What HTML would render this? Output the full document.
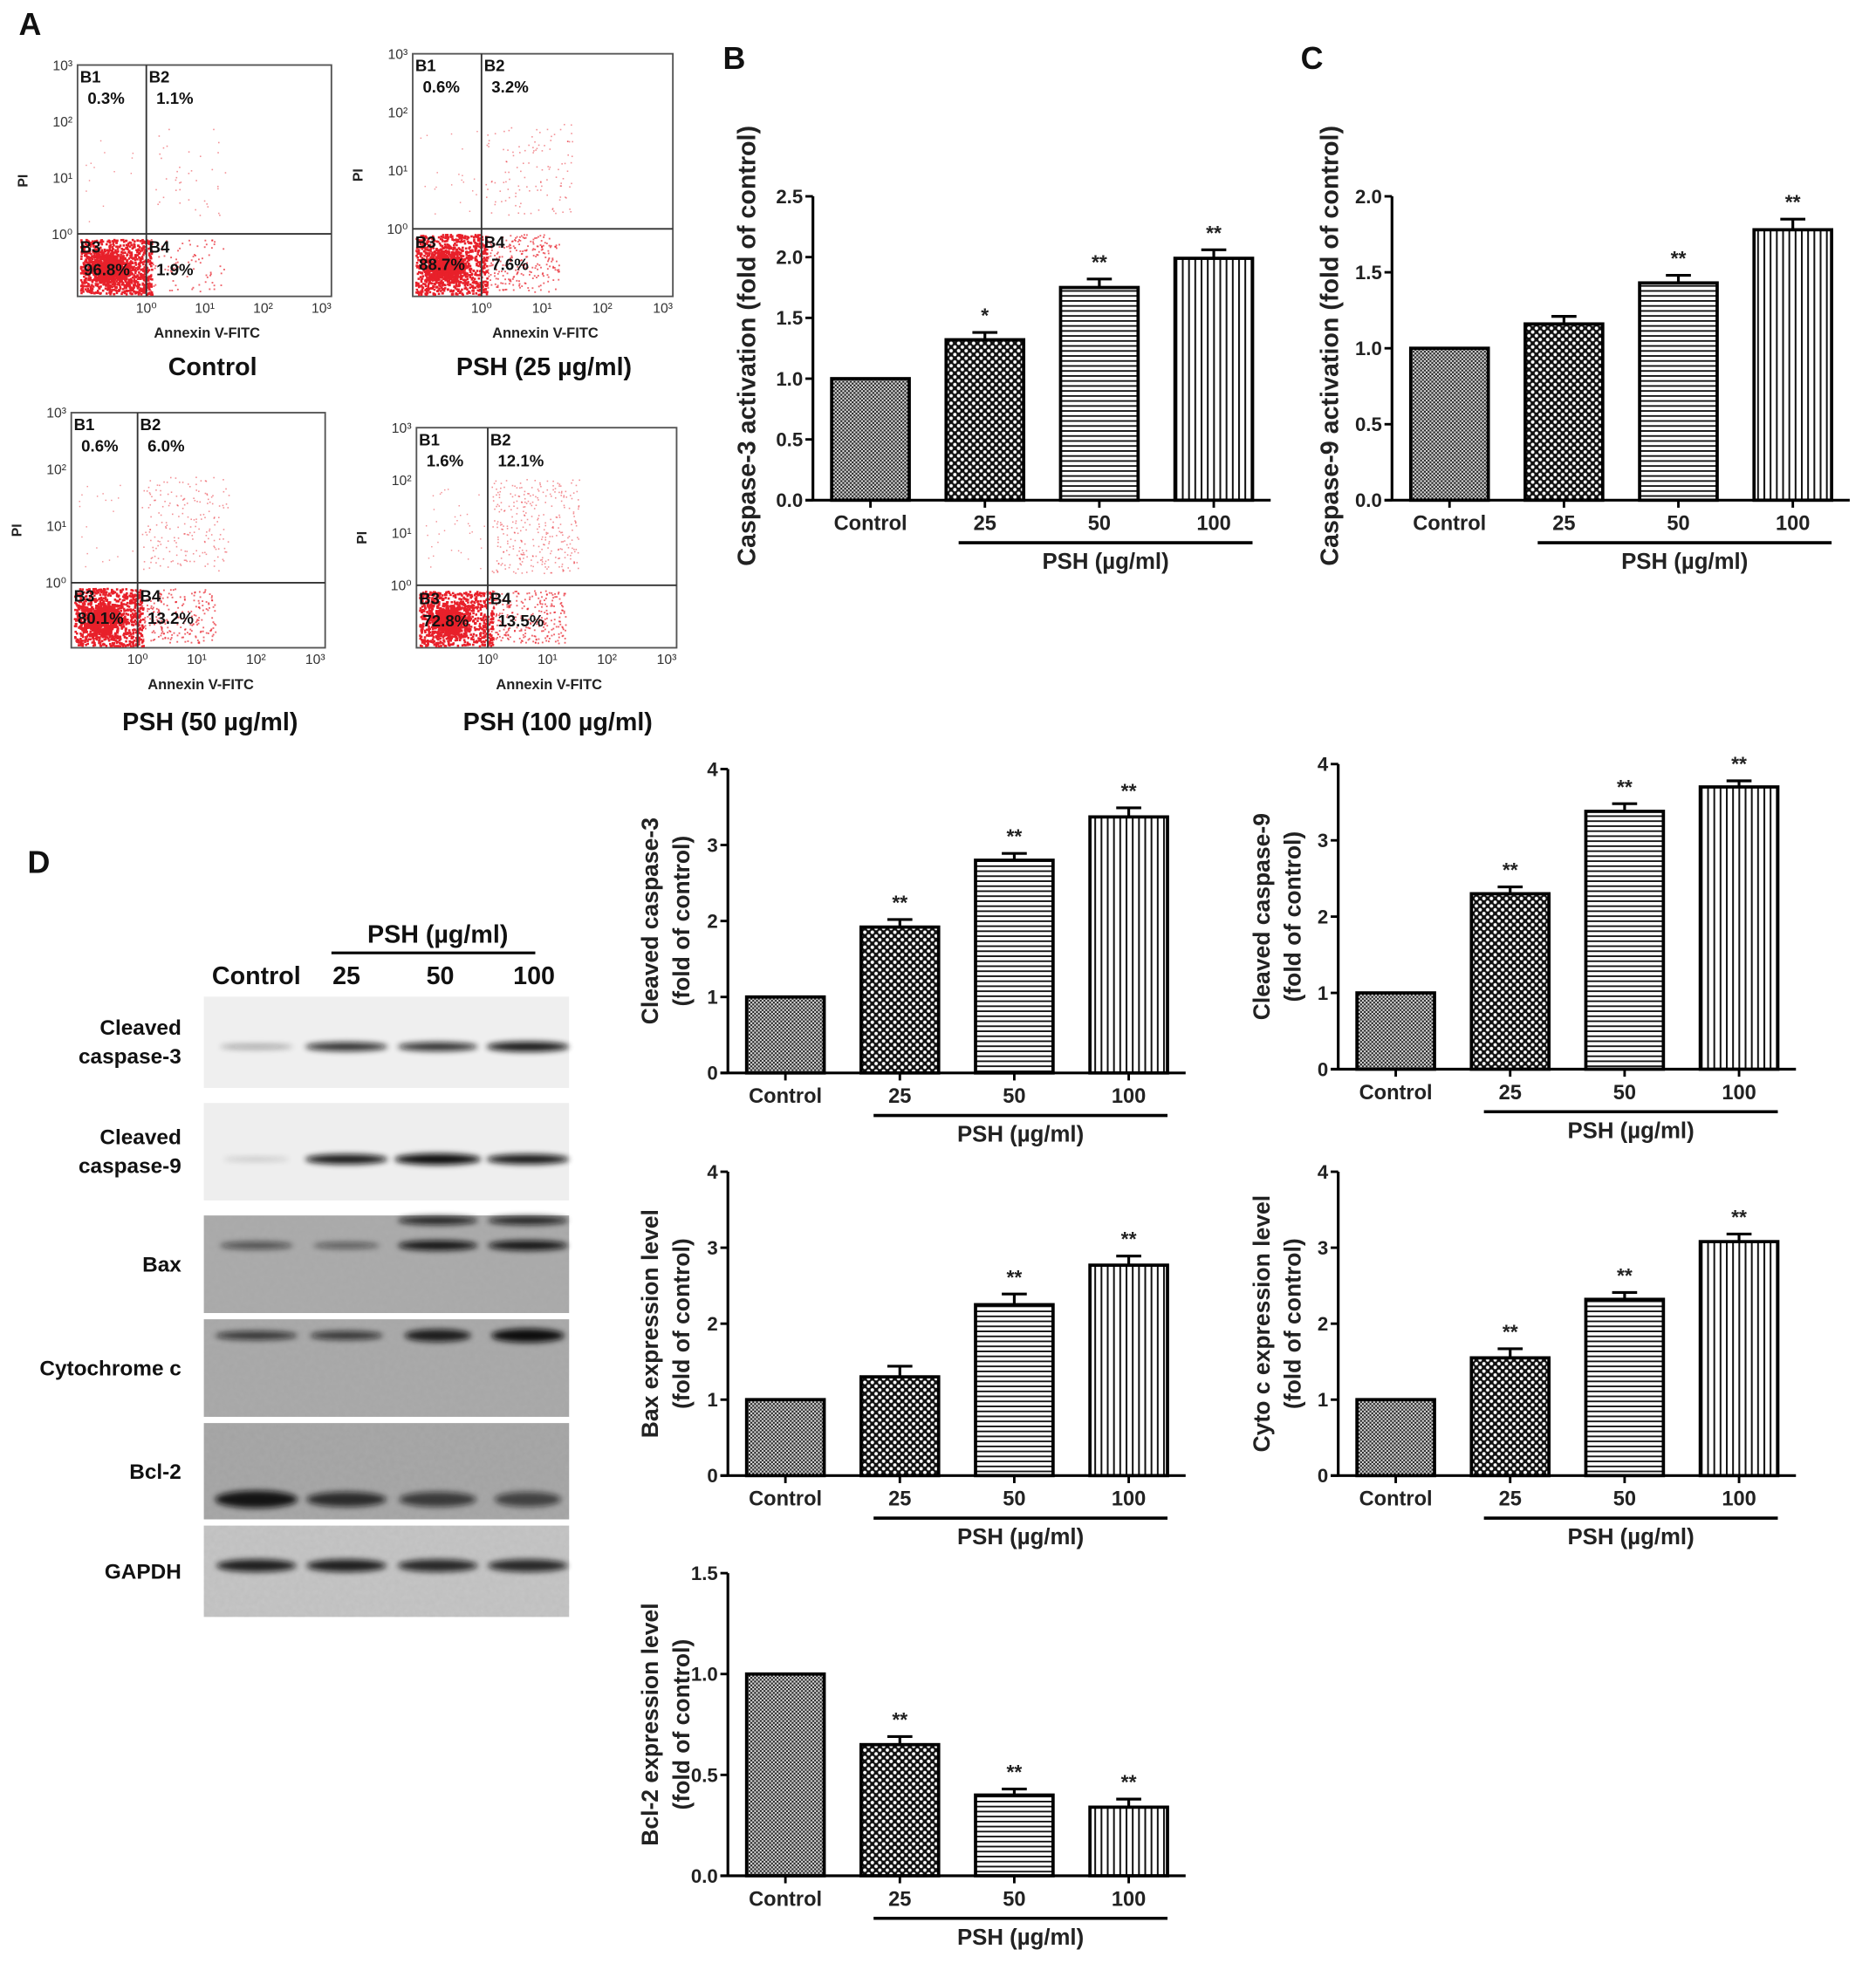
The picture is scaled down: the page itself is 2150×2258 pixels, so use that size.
<!DOCTYPE html>
<html><head><meta charset="utf-8"><style>
html,body{margin:0;padding:0;background:#fff;}
svg{display:block;font-family:"Liberation Sans",Arial,sans-serif;font-weight:bold;}
</style></head><body>
<svg id="fig" width="2150" height="2258" viewBox="0 0 1500 1575.35" xmlns="http://www.w3.org/2000/svg">
<defs>
<pattern id="pCtrl" width="3" height="3" patternUnits="userSpaceOnUse"><rect width="3" height="3" fill="#ddd"/><rect width="1.5" height="1.5" fill="#222"/><rect x="1.5" y="1.5" width="1.5" height="1.5" fill="#222"/></pattern>
<pattern id="pChk" width="6" height="6" patternUnits="userSpaceOnUse"><rect width="6" height="6" fill="#111"/><circle cx="1.5" cy="1.5" r="1.4" fill="#fff"/><circle cx="4.5" cy="4.5" r="1.4" fill="#fff"/></pattern>
<pattern id="pH" width="4" height="4" patternUnits="userSpaceOnUse"><rect width="4" height="4" fill="#fff"/><rect y="0" width="4" height="1.3" fill="#111"/></pattern>
<pattern id="pV" width="5" height="5" patternUnits="userSpaceOnUse"><rect width="5" height="5" fill="#fff"/><rect x="0" width="1.4" height="5" fill="#111"/></pattern>
<filter id="blur" x="-50%" y="-200%" width="200%" height="500%"><feGaussianBlur stdDeviation="2.5"/></filter>
<filter id="noise" x="0" y="0" width="100%" height="100%"><feTurbulence type="fractalNoise" baseFrequency="0.25" numOctaves="2" seed="3"/><feColorMatrix type="matrix" values="0 0 0 0 0.45 0 0 0 0 0.45 0 0 0 0 0.45 0 0 0 0.4 0"/></filter>
</defs>
<g id="root"></g>
</svg>
<script>
// Chart B data
const catLabels = ["Control","25","50","100"];
const bVals = [1.0, 1.32, 1.75, 1.99];
const bErr = [0, 0.06, 0.07, 0.07];
const bStars = ["", "*", "**", "**"];
const bTicks = ["0.0","0.5","1.0","1.5","2.0","2.5"];
// Chart C data
const cVals = [1.0, 1.16, 1.43, 1.78];
const cErr = [0, 0.05, 0.05, 0.07];
const cStars = ["", "", "**", "**"];
const cTicks = ["0.0","0.5","1.0","1.5","2.0"];
// D charts data
const d1Vals = [1.0, 1.92, 2.8, 3.37];
const d1Err = [0, 0.1, 0.09, 0.12];
const d2Vals = [1.0, 2.3, 3.38, 3.7];
const d2Err = [0, 0.09, 0.1, 0.08];
const d3Vals = [1.0, 1.3, 2.25, 2.77];
const d3Err = [0, 0.14, 0.14, 0.12];
const d3Stars = ["", "", "**", "**"];
const d4Vals = [1.0, 1.55, 2.32, 3.08];
const d4Err = [0, 0.12, 0.09, 0.1];
const d5Vals = [1.0, 0.65, 0.4, 0.34];
const d5Err = [0, 0.04, 0.03, 0.04];
const starsAll = ["", "**", "**", "**"];
const ticks4 = ["0","1","2","3","4"];
const ticks15 = ["0.0","0.5","1.0","1.5"];
// Flow cytometry quadrant percentages
const flowPct = [["0.3%","1.1%","96.8%","1.9%"],["0.6%","3.2%","88.7%","7.6%"],["0.6%","6.0%","80.1%","13.2%"],["1.6%","12.1%","72.8%","13.5%"]];
const flowTitles = ["Control","PSH (25 µg/ml)","PSH (50 µg/ml)","PSH (100 µg/ml)"];

const NS = "http://www.w3.org/2000/svg";
const root = document.getElementById("root");
function el(tag, attrs, parent, text){
  const e = document.createElementNS(NS, tag);
  for (const k in attrs) e.setAttribute(k, attrs[k]);
  if (text !== undefined) e.textContent = text;
  (parent || root).appendChild(e);
  return e;
}
const patterns = ["url(#pCtrl)","url(#pChk)","url(#pH)","url(#pV)"];

function barChart(o){
  const g = el("g", {});
  
  
  const yMax = parseFloat(o.ticks[o.ticks.length-1]);
  const ys = v => o.y0 - (v / yMax) * (o.y0 - o.yTop);
  const xs = i => o.ax + 15 + i * 91.5;
  const bw = 62;
  const ya = el("line", {x1:o.ax, y1:o.yTop, x2:o.ax, y2:o.y0, stroke:"#000","stroke-width":2.2}, g);
  
  
  o.ticks.forEach(t => {
    const y = ys(parseFloat(t));
    el("line", {x1:o.ax-6, y1:y, x2:o.ax, y2:y, stroke:"#000","stroke-width":2}, g);
    const tl = el("text", {x:o.ax-8, y:y+5.5, "text-anchor":"end", "font-size":15.5, fill:"#222"}, g, t);
    
    
  });
  const xa = el("line", {x1:o.ax-6, y1:o.y0, x2:o.ax+366, y2:o.y0, stroke:"#000","stroke-width":2.2}, g);
  
  
  o.vals.forEach((v, i) => {
    const x = xs(i), y = ys(v);
    el("line", {x1:x+bw/2, y1:o.y0, x2:x+bw/2, y2:o.y0+6, stroke:"#000","stroke-width":2}, g);
    const b = el("rect", {x:x, y:y, width:bw, height:o.y0-y, fill:patterns[i], stroke:"#000","stroke-width":2.6}, g);
    
    
    if (o.err[i] > 0){
      const ye = ys(v + o.err[i]);
      el("line", {x1:x+bw/2, y1:y, x2:x+bw/2, y2:ye, stroke:"#000","stroke-width":2.2}, g);
      el("line", {x1:x+bw/2-10, y1:ye, x2:x+bw/2+10, y2:ye, stroke:"#000","stroke-width":2.2}, g);
    }
    if (o.stars[i]){
      const st = el("text", {x:x+bw/2, y:ys(v + o.err[i]) - 8, "text-anchor":"middle", "font-size":16, fill:"#222"}, g, o.stars[i]);
      
      
    }
    const cl = el("text", {x:x+bw/2, y:o.y0+24, "text-anchor":"middle", "font-size":16.5, fill:"#222"}, g, catLabels[i]);
    
    
  });
  el("line", {x1:xs(1)+10, y1:o.y0+34, x2:xs(3)+bw, y2:o.y0+34, stroke:"#000","stroke-width":2.5}, g);
  const px = el("text", {x:(xs(1)+xs(3)+bw)/2+5, y:o.y0+55, "text-anchor":"middle", "font-size":18, fill:"#222"}, g, "PSH (µg/ml)");
  
  
  const cy = (o.y0 + o.yTop)/2 + (o.ylab.length === 1 ? -2 : 0);
  o.ylab.forEach((line, k) => {
    const lx = o.ylx + k*25;
    const t = el("text", {x:lx, y:cy, "text-anchor":"middle", "font-size":o.ylab.length===1?20:18.5, fill:"#222", transform:`rotate(-90 ${lx} ${cy})`}, g, line);
    
    
  });
}

barChart({name:"chart-b-caspase3", ax:650, y0:400, yTop:157, ticks:bTicks, vals:bVals, err:bErr, stars:bStars, ylab:["Caspase-3 activation (fold of control)"], ylx:604});
barChart({name:"chart-c-caspase9", ax:1113, y0:400, yTop:157, ticks:cTicks, vals:cVals, err:cErr, stars:cStars, ylab:["Caspase-9 activation (fold of control)"], ylx:1070});
barChart({name:"chart-cleaved-caspase3", ax:582, y0:858, yTop:615, ticks:ticks4, vals:d1Vals, err:d1Err, stars:starsAll, ylab:["Cleaved caspase-3","(fold of control)"], ylx:526});
barChart({name:"chart-cleaved-caspase9", ax:1070, y0:855, yTop:611, ticks:ticks4, vals:d2Vals, err:d2Err, stars:starsAll, ylab:["Cleaved caspase-9","(fold of control)"], ylx:1015});
barChart({name:"chart-bax", ax:582, y0:1180, yTop:937, ticks:ticks4, vals:d3Vals, err:d3Err, stars:d3Stars, ylab:["Bax expression level","(fold of control)"], ylx:526});
barChart({name:"chart-cyto-c", ax:1070, y0:1180, yTop:937, ticks:ticks4, vals:d4Vals, err:d4Err, stars:starsAll, ylab:["Cyto c expression level","(fold of control)"], ylx:1015});
barChart({name:"chart-bcl2", ax:582, y0:1500, yTop:1258, ticks:ticks15, vals:d5Vals, err:d5Err, stars:starsAll, ylab:["Bcl-2 expression level","(fold of control)"], ylx:526});

[["A",15,28],["B",578,55],["C",1040,55],["D",22,698]].forEach(p => {
  const t = el("text", {x:p[1], y:p[2], "font-size":25, fill:"#111"}, root, p[0]);
  
  
});

// Flow cytometry plots
let seed = 7;
function rnd(){ seed = (seed * 16807) % 2147483647; return seed / 2147483647; }
function gauss(){ return (rnd()+rnd()+rnd()+rnd()-2)/1.2; }
const flowBoxes = [
  {x1:62,y1:52,x2:265,y2:237,vx:117,hy:187,tx:170,ty:300},
  {x1:330,y1:43,x2:538,y2:237,vx:385,hy:183,tx:435,ty:300},
  {x1:57,y1:330,x2:260,y2:518,vx:110,hy:466,tx:168,ty:584},
  {x1:333,y1:342,x2:541,y2:518,vx:390,hy:468,tx:446,ty:584}
];
const counts = [[900,40,80,3],[850,120,250,10],[800,200,220,10],[750,330,260,25]];
flowBoxes.forEach((b, i) => {
  const g = el("g", {});
  
  
  el("rect", {x:b.x1, y:b.y1, width:b.x2-b.x1, height:b.y2-b.y1, fill:"#fff", stroke:"#555", "stroke-width":1.3}, g);
  const dots = el("g", {fill:"#e8202a"}, g);
  const c = counts[i];
  for (let k=0;k<c[0];k++){ const x=b.x1+2+rnd()*(b.vx-b.x1+2); const y=b.hy+4+rnd()*(b.y2-b.hy-6); el("rect",{x:x,y:y,width:1.8,height:1.8},dots); }
  for (let k=0;k<c[0]*0.6;k++){ const x=b.x1+(b.vx-b.x1)*0.45+gauss()*14; const y=b.hy+(b.y2-b.hy)*0.55+gauss()*12; el("rect",{x:Math.max(b.x1+2,Math.min(b.vx+8,x)),y:Math.max(b.hy+2,Math.min(b.y2-3,y)),width:2.2,height:2.2},dots); }
  for (let k=0;k<c[2];k++){ el("rect",{x:b.vx+2+rnd()*60,y:b.hy+4+rnd()*(b.y2-b.hy-8),width:1.3,height:1.3,opacity:0.7},dots); }
  for (let k=0;k<c[1];k++){ el("rect",{x:b.vx+3+rnd()*70,y:b.hy-10-rnd()*75,width:1.1,height:1.1,opacity:0.5},dots); }
  for (let k=0;k<c[3]+10;k++){ el("rect",{x:b.x1+5+rnd()*(b.vx-b.x1-8),y:b.hy-10-rnd()*70,width:1,height:1,opacity:0.5},dots); }
  el("line", {x1:b.vx, y1:b.y1, x2:b.vx, y2:b.y2, stroke:"#333", "stroke-width":1.3}, g);
  el("line", {x1:b.x1, y1:b.hy, x2:b.x2, y2:b.hy, stroke:"#333", "stroke-width":1.3}, g);
  const lab = (t,x,y,s) => el("text",{x:x,y:y,"font-size":s||13,fill:"#111"},g,t);
  lab("B1", b.x1+2, b.y1+14); lab("B2", b.vx+2, b.y1+14);
  lab(flowPct[i][0], b.x1+8, b.y1+31); lab(flowPct[i][1], b.vx+8, b.y1+31);
  lab("B3", b.x1+2, b.hy+15); lab("B4", b.vx+2, b.hy+15);
  lab(flowPct[i][2], b.x1+5, b.hy+33); lab(flowPct[i][3], b.vx+8, b.hy+33);
  const dy = (b.hy - b.y1)/3;
  for (let k=0;k<4;k++){ const y=b.hy-k*dy; el("text",{x:b.x1-4,y:y+4,"text-anchor":"end","font-size":11,fill:"#333","font-weight":"normal"},g,"10"+["⁰","¹","²","³"][k]); }
  const dx = (b.x2 - 8 - b.vx)/3;
  for (let k=0;k<4;k++){ const x=b.vx+k*dx; el("text",{x:x,y:b.y2+13,"text-anchor":"middle","font-size":11,fill:"#333","font-weight":"normal"},g,"10"+["⁰","¹","²","³"][k]); }
  el("text",{x:b.x1-40,y:(b.y1+b.y2)/2,"font-size":11,fill:"#222",transform:`rotate(-90 ${b.x1-40} ${(b.y1+b.y2)/2})`,"text-anchor":"middle"},g,"PI");
  el("text",{x:(b.x1+b.x2)/2+2,y:b.y2+33,"text-anchor":"middle","font-size":11.5,fill:"#222"},g,"Annexin V-FITC");
  const tt = el("text",{x:b.tx,y:b.ty,"text-anchor":"middle","font-size":20,fill:"#111"},g,flowTitles[i]);
  
  
});

// Western blot
const wb = el("g", {});


el("text",{x:350,y:754,"text-anchor":"middle","font-size":20,fill:"#111"},wb,"PSH (µg/ml)");
el("line",{x1:265,y1:762,x2:428,y2:762,stroke:"#000","stroke-width":2.2},wb);
[["Control",205],["25",277],["50",352],["100",427]].forEach(l => el("text",{x:l[1],y:787,"text-anchor":"middle","font-size":20,fill:"#111"},wb,l[0]));
const strips = [
  {y:797,h:73,bg:"#efefef",lab:["Cleaved","caspase-3"],bands:[[0.35,0.55,2],[0.85,0.62,3.5],[0.85,0.6,3.5],[0.95,0.62,4]],by:40,noise:false},
  {y:882,h:78,bg:"#eeeeee",lab:["Cleaved","caspase-9"],bands:[[0.2,0.5,1.5],[0.95,0.62,4],[1,0.65,4.5],[0.95,0.62,4]],by:45,noise:false},
  {y:972,h:78,bg:"#a8a8a8",lab:["Bax"],bands:[[0.6,0.55,3],[0.55,0.5,2.5],[0.95,0.6,4],[0.95,0.6,4]],by:24,noise:true,extra:true},
  {y:1055,h:78,bg:"#a6a6a6",lab:["Cytochrome c"],bands:[[0.75,0.62,3.5],[0.75,0.55,3.5],[0.9,0.5,5],[1,0.55,5.5]],by:13,noise:true},
  {y:1138,h:77,bg:"#a2a2a2",lab:["Bcl-2"],bands:[[0.95,0.62,7],[0.8,0.6,6],[0.7,0.58,6],[0.65,0.5,6]],by:61,noise:true},
  {y:1220,h:73,bg:"#c6c6c6",lab:["GAPDH"],bands:[[0.9,0.6,5],[0.9,0.6,5],[0.85,0.6,5],[0.85,0.6,5]],by:32,noise:true}
];
const laneX = [205,277,350,422];
strips.forEach(s => {
  const g = el("g",{},wb);
  
  
  el("rect",{x:163,y:s.y,width:292,height:s.h,fill:s.bg},g);
  if (s.noise) el("rect",{x:163,y:s.y,width:292,height:s.h,filter:"url(#noise)"},g);
  s.bands.forEach((bd,i) => {
    el("ellipse",{cx:laneX[i],cy:s.y+s.by,rx:38*bd[1]*1.4,ry:bd[2],fill:"#111",opacity:bd[0],filter:"url(#blur)"},g);
    if (s.extra && i>=2) el("ellipse",{cx:laneX[i],cy:s.y+s.by-20,rx:32,ry:3.5,fill:"#111",opacity:0.85,filter:"url(#blur)"},g);
  });
  const cy = s.y + s.h/2;
  if (s.lab.length === 2){
    el("text",{x:145,y:cy-6,"text-anchor":"end","font-size":17,fill:"#111"},g,s.lab[0]);
    el("text",{x:145,y:cy+17,"text-anchor":"end","font-size":17,fill:"#111"},g,s.lab[1]);
  } else {
    el("text",{x:145,y:cy+6,"text-anchor":"end","font-size":17,fill:"#111"},g,s.lab[0]);
  }
});
</script>
</body></html>
